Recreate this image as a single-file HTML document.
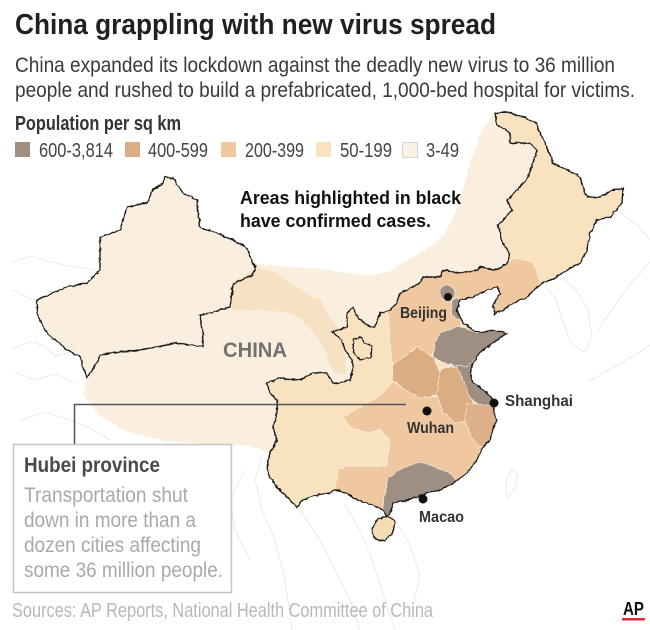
<!DOCTYPE html>
<html><head><meta charset="utf-8">
<style>
html,body{margin:0;padding:0;background:#fff;width:650px;height:630px;overflow:hidden}
svg{display:block}
text{font-family:"Liberation Sans Narrow","Liberation Sans",Arial,sans-serif}
</style></head>
<body>
<svg width="650" height="630" viewBox="0 0 650 630" xmlns="http://www.w3.org/2000/svg">
<defs>
<filter id="rough" filterUnits="userSpaceOnUse" x="0" y="0" width="650" height="630">
  <feTurbulence type="fractalNoise" baseFrequency="0.22" numOctaves="2" seed="4" result="n"/>
  <feDisplacementMap in="SourceGraphic" in2="n" scale="3" xChannelSelector="R" yChannelSelector="G"/>
</filter>
<path id="U" d="M37,300 L53,293 L67,287 L87,283 L100,270 L100,237 L120,230 L127,207 L147,203 L153,190 L163,183 L165,177 L173,178 L183,193 L197,200 L200,228 L217,233 L237,242 L247,248 L253,263 L280,266 L310,268 L340,272 L370,276 L390,271 L413,257 L430,247 L445,234 L456,210 L463,188 L471,160 L480,135 L490,118 L495,113 L507,112 L523,117 L537,123 L540,133 L547,147 L553,163 L567,170 L580,177 L583,187 L587,197 L600,197 L613,190 L623,188 L622,203 L610,217 L597,220 L590,233 L587,250 L580,263 L567,270 L555,278 L545,282 L537,287 L527,297 L513,303 L503,310 L495,314 L493,305 L500,293 L497,287 L487,290 L473,297 L460,300 L457,310 L460,317 L463,323 L473,330 L480,333 L493,330 L507,333 L497,340 L487,347 L480,353 L473,363 L470,373 L473,383 L480,387 L487,393 L493,400 L497,403 L493,410 L497,420 L493,430 L490,440 L483,447 L477,460 L467,473 L453,483 L440,490 L427,493 L417,497 L407,500 L393,503 L390,513 L387,517 L383,510 L377,507 L367,503 L357,500 L347,493 L337,490 L327,493 L310,497 L303,500 L297,507 L290,500 L283,493 L277,487 L270,477 L267,467 L270,453 L250,446 L210,444 L165,441 L125,431 L100,416 L84,396 L87,378 L80,357 L67,350 L47,333 L43,327 L37,313 Z"/>
<path id="E" d="M347,313 L353,307 L358,318 L370,327 L375,327 L380,313 L390,310 L397,303 L400,293 L420,283 L423,277 L440,277 L443,270 L460,273 L477,270 L480,267 L497,270 L507,263 L510,255 L503,243 L498,225 L512,210 L507,200 L520,187 L528,177 L533,163 L537,150 L530,143 L510,143 L510,133 L497,125 L495,113 L507,112 L523,117 L537,123 L540,133 L547,147 L553,163 L567,170 L580,177 L583,187 L587,197 L600,197 L613,190 L623,188 L622,203 L610,217 L597,220 L590,233 L587,250 L580,263 L567,270 L555,278 L545,282 L537,287 L527,297 L513,303 L503,310 L495,314 L493,305 L500,293 L497,287 L487,290 L473,297 L460,300 L457,310 L460,317 L463,323 L473,330 L480,333 L493,330 L507,333 L497,340 L487,347 L480,353 L473,363 L470,373 L473,383 L480,387 L487,393 L493,400 L497,403 L493,410 L497,420 L493,430 L490,440 L483,447 L477,460 L467,473 L453,483 L440,490 L427,493 L417,497 L407,500 L393,503 L390,513 L387,517 L383,510 L377,507 L367,503 L357,500 L347,493 L337,490 L327,493 L310,497 L303,500 L297,507 L290,500 L283,493 L277,487 L270,477 L267,467 L270,453 L277,440 L273,427 L277,413 L277,400 L270,393 L267,383 L280,378 L300,380 L313,373 L327,373 L333,383 L340,383 L350,380 L353,370 L352,360 L345,350 L342,340 L332,332 L347,327 Z"/>
<path id="N" d="M353,340 L360,337 L365,343 L372,346 L371,357 L360,360 L354,353 Z"/>
<path id="X" d="M37,300 L53,293 L67,287 L87,283 L100,270 L100,237 L120,230 L127,207 L147,203 L153,190 L163,183 L165,177 L173,178 L183,193 L197,200 L200,228 L217,233 L237,242 L247,248 L253,263 L255,266 L253,275 L242,280 L233,284 L230,307 L213,312 L200,315 L203,333 L203,347 L177,343 L140,350 L117,352 L100,355 L97,363 L87,378 L80,357 L67,350 L47,333 L43,327 L37,313 Z"/>
<path id="H" d="M373,527 L378,519 L388,516 L395,521 L393,533 L384,541 L376,539 L372,533 Z"/>
<clipPath id="cU"><use href="#U"/></clipPath>
<clipPath id="cE"><use href="#E"/></clipPath>
</defs>

<!-- faint neighbour borders -->
<g fill="none" stroke="#e6e6e6" stroke-width="0.8">
  <polyline points="12,262 30,256 50,262 70,266 95,270"/>
  <polyline points="12,290 25,296 37,302"/>
  <polyline points="12,348 30,342 45,346 55,356 70,352"/>
  <polyline points="15,372 35,380 55,374 78,384"/>
  <polyline points="20,420 45,412 70,420 90,428 110,440"/>
  <polyline points="262,455 255,480 262,510 275,540 285,580 292,630"/>
  <polyline points="300,510 320,540 335,570 350,600 360,630"/>
  <polyline points="345,505 360,530 372,560 385,600 395,630"/>
  <polyline points="395,520 410,545 420,575 412,610"/>
  <polyline points="245,470 230,500 235,530 250,560"/>
  <polyline points="546,286 556,300 562,320 572,345 585,352 592,335 588,310 576,290 562,278"/>
  <polyline points="598,330 615,305 632,282 650,262"/>
  <polyline points="588,382 612,368 640,352 650,345"/>
  <polyline points="620,212 638,226 650,240"/>
  <polyline points="512,468 518,475 514,490 507,498 506,482 512,468"/>
</g>

<g filter="url(#rough)">
  <use href="#U" fill="#faefdf"/>
  <g clip-path="url(#cU)">
    <polygon fill="#f6e2c2" points="233,283 255,268 275,272 290,283 305,292 320,300 327,313 338,328 345,345 346,375 333,372 326,352 314,333 300,318 285,312 262,310 233,310 229,296"/>
  </g>
  <use href="#E" fill="#f8e2bf"/>
  <g clip-path="url(#cE)" stroke="#fff" stroke-width="0.7" stroke-opacity="0.7">
    <polygon fill="#efc8a0" points="388,312 400,293 420,283 423,277 440,277 443,270 460,273 477,270 480,267 497,270 507,263 515,258 533,262 542,286 500,318 462,320 455,335 437,342 432,355 393,364 390,345"/>
    <polygon fill="#efc8a0" points="343,417 360,407 377,398 393,383 420,397 437,397 445,412 470,418 502,415 502,440 482,470 460,490 420,500 395,505 392,522 375,512 345,500 335,490 338,470 345,466 387,466 390,440 380,430 367,433 350,427"/>
    <polygon fill="#dcac82" points="392,365 417,347 433,357 440,373 437,395 420,398 403,388 393,380"/>
    <polygon fill="#dcac82" points="440,368 457,367 463,380 470,397 476,405 472,420 455,423 443,412 437,395 440,373"/>
    <polygon fill="#deb089" points="467,404 480,404 494,403 502,412 500,428 494,444 480,447 471,437 465,420"/>
    <polygon fill="#9f8f82" points="433,357 435,343 440,333 460,326 477,333 493,329 512,333 497,343 480,355 467,367 447,364"/>
    <polygon fill="#9f8f82" points="447,364 467,367 480,354 470,375 475,385 490,393 503,403 492,406 478,404 470,398 463,380 457,367"/>
    <polygon fill="#9f8f82" points="388,478 405,467 420,462 435,467 450,473 460,485 445,495 420,500 398,505 392,522 380,518 384,500"/>
    <polygon fill="#9f8f82" points="440,290 446,284 454,288 455,297 447,302 441,298"/>
    <polygon fill="#9f8f82" points="452,300 458,297 462,308 460,320 451,315"/>
  </g>
  <use href="#H" fill="#f6dcb5" stroke="#1a1a1a" stroke-width="1.3"/>
  <use href="#N" fill="none" stroke="#1a1a1a" stroke-width="1.2"/>
  <use href="#X" fill="none" stroke="#1a1a1a" stroke-width="1.4"/>
  <use href="#E" fill="none" stroke="#1a1a1a" stroke-width="1.4"/>
</g>

<!-- title block -->
<text x="15" y="34" font-size="29" font-weight="bold" fill="#231f20" textLength="481" lengthAdjust="spacingAndGlyphs">China grappling with new virus spread</text>
<text x="15" y="72" font-size="21" fill="#3a3a3a" textLength="600" lengthAdjust="spacingAndGlyphs">China expanded its lockdown against the deadly new virus to 36 million</text>
<text x="15" y="97" font-size="21" fill="#3a3a3a" textLength="620" lengthAdjust="spacingAndGlyphs">people and rushed to build a prefabricated, 1,000-bed hospital for victims.</text>
<text x="15" y="130" font-size="20" font-weight="bold" fill="#333" textLength="166" lengthAdjust="spacingAndGlyphs">Population per sq km</text>

<rect x="15" y="142" width="15" height="15" fill="#9f8f82"/>
<text x="39" y="157" font-size="20" fill="#444" textLength="74" lengthAdjust="spacingAndGlyphs">600-3,814</text>
<rect x="125" y="142" width="15" height="15" fill="#dcac82"/>
<text x="148" y="157" font-size="20" fill="#444" textLength="60" lengthAdjust="spacingAndGlyphs">400-599</text>
<rect x="221" y="142" width="15" height="15" fill="#efc8a0"/>
<text x="245" y="157" font-size="20" fill="#444" textLength="59" lengthAdjust="spacingAndGlyphs">200-399</text>
<rect x="316" y="142" width="15" height="15" fill="#f8e2bf"/>
<text x="340" y="157" font-size="20" fill="#444" textLength="52" lengthAdjust="spacingAndGlyphs">50-199</text>
<rect x="402.5" y="142.5" width="15" height="15" fill="#fbf0e1" stroke="#d6d6d6" stroke-width="1"/>
<text x="426" y="157" font-size="20" fill="#444" textLength="33" lengthAdjust="spacingAndGlyphs">3-49</text>

<!-- map annotations -->
<text x="240" y="204" font-size="18" font-weight="bold" fill="#111" textLength="221" lengthAdjust="spacingAndGlyphs">Areas highlighted in black</text>
<text x="240" y="227" font-size="18" font-weight="bold" fill="#111" textLength="191" lengthAdjust="spacingAndGlyphs">have confirmed cases.</text>
<text x="223" y="357" font-size="21" font-weight="bold" fill="#727272" textLength="64" lengthAdjust="spacingAndGlyphs">CHINA</text>

<text x="400" y="318" font-size="15.5" font-weight="bold" fill="#333" textLength="47" lengthAdjust="spacingAndGlyphs">Beijing</text>
<text x="505" y="406" font-size="15.5" font-weight="bold" fill="#333" textLength="68" lengthAdjust="spacingAndGlyphs">Shanghai</text>
<text x="407" y="433" font-size="15.5" font-weight="bold" fill="#333" textLength="47" lengthAdjust="spacingAndGlyphs">Wuhan</text>
<text x="419" y="522" font-size="15.5" font-weight="bold" fill="#333" textLength="45" lengthAdjust="spacingAndGlyphs">Macao</text>

<circle cx="448" cy="297" r="4" fill="#111"/>
<circle cx="494" cy="403" r="4.5" fill="#111"/>
<circle cx="427" cy="411" r="4.5" fill="#111"/>
<circle cx="423" cy="499" r="4.5" fill="#111"/>

<!-- Hubei callout -->
<path d="M74.5,445 V404.5 H406" fill="none" stroke="#555" stroke-width="1.5"/>
<rect x="13.5" y="444.5" width="218" height="148" fill="#fff" stroke="#c4c4c4" stroke-width="1.5"/>
<text x="24" y="472" font-size="21" font-weight="bold" fill="#4a4a4a" textLength="136" lengthAdjust="spacingAndGlyphs">Hubei province</text>
<text x="24" y="502" font-size="21" fill="#a9a9a9" textLength="164" lengthAdjust="spacingAndGlyphs">Transportation shut</text>
<text x="24" y="527" font-size="21" fill="#a9a9a9" textLength="172" lengthAdjust="spacingAndGlyphs">down in more than a</text>
<text x="24" y="552" font-size="21" fill="#a9a9a9" textLength="177" lengthAdjust="spacingAndGlyphs">dozen cities affecting</text>
<text x="24" y="577" font-size="21" fill="#a9a9a9" textLength="199" lengthAdjust="spacingAndGlyphs">some 36 million people.</text>

<!-- footer -->
<text x="12" y="617" font-size="20" fill="#b8b8b8" textLength="421" lengthAdjust="spacingAndGlyphs">Sources: AP Reports, National Health Committee of China</text>
<text x="623" y="615" font-size="18" font-weight="bold" fill="#111" textLength="21" lengthAdjust="spacingAndGlyphs">AP</text>
<rect x="622" y="618" width="23" height="2.5" fill="#e0263a"/>
</svg>
</body></html>
